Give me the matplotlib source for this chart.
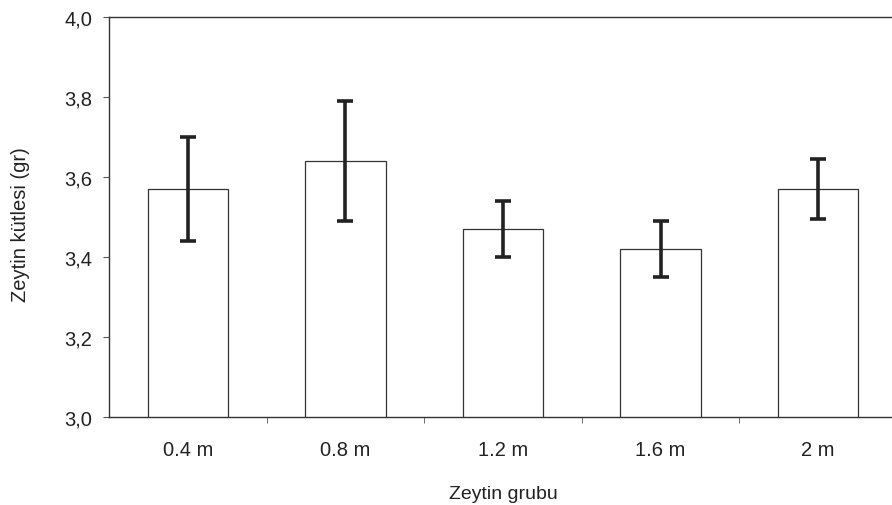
import matplotlib
matplotlib.use("Agg")
import matplotlib.pyplot as plt
import numpy as np

groups = ["0.4 m", "0.8 m", "1.2 m", "1.6 m", "2 m"]
mass = [3.57, 3.64, 3.47, 3.42, 3.57]
err = [0.13, 0.15, 0.07, 0.07, 0.075]
yticks = [3.0, 3.2, 3.4, 3.6, 3.8, 4.0]

plt.rcParams['font.family'] = ['Liberation Sans', 'DejaVu Sans']

fig = plt.figure(figsize=(8.92, 5.06), dpi=100)
# right edge of the plot area runs a little past the picture, as in the scan
ax = fig.add_axes([109 / 892, 88 / 506, 788 / 892, 400 / 506])

x = np.arange(len(groups))
ax.bar(x, mass, width=0.51, color="white", edgecolor="#333333", linewidth=0.9)
ax.errorbar(x, mass, yerr=err, fmt="none", ecolor="#222222", elinewidth=2.6,
            capsize=6, capthick=2.6)

ax.set_xlim(-0.5, len(groups) - 0.5)
ax.set_ylim(3.0, 4.0)
ax.set_yticks(yticks)
ax.set_yticklabels([f"{v:.1f}".replace(".", ",") for v in yticks])
ax.set_xticks(x)
ax.set_xticklabels(groups)
ax.set_xticks(np.arange(len(groups) - 1) + 0.5, minor=True)
ax.tick_params(axis="x", which="major", length=0, pad=16.5, labelsize=14.5,
               labelcolor="#222222")
ax.tick_params(axis="x", which="minor", length=4, color="#555555")
ax.tick_params(axis="y", length=4, color="#555555", labelsize=14.5, pad=8,
               labelcolor="#222222")

for side in ["left", "top", "bottom"]:
    ax.spines[side].set_color("#333333")
    ax.spines[side].set_linewidth(1.0)
ax.spines["right"].set_visible(False)

ax.set_xlabel("Zeytin grubu", fontsize=14, labelpad=19, color="#222222")
ax.set_ylabel("Zeytin kütlesi (gr)", fontsize=14.5, color="#222222")
ax.yaxis.set_label_coords(-0.100, 0.4825)

fig.savefig("out.png", dpi=100)
